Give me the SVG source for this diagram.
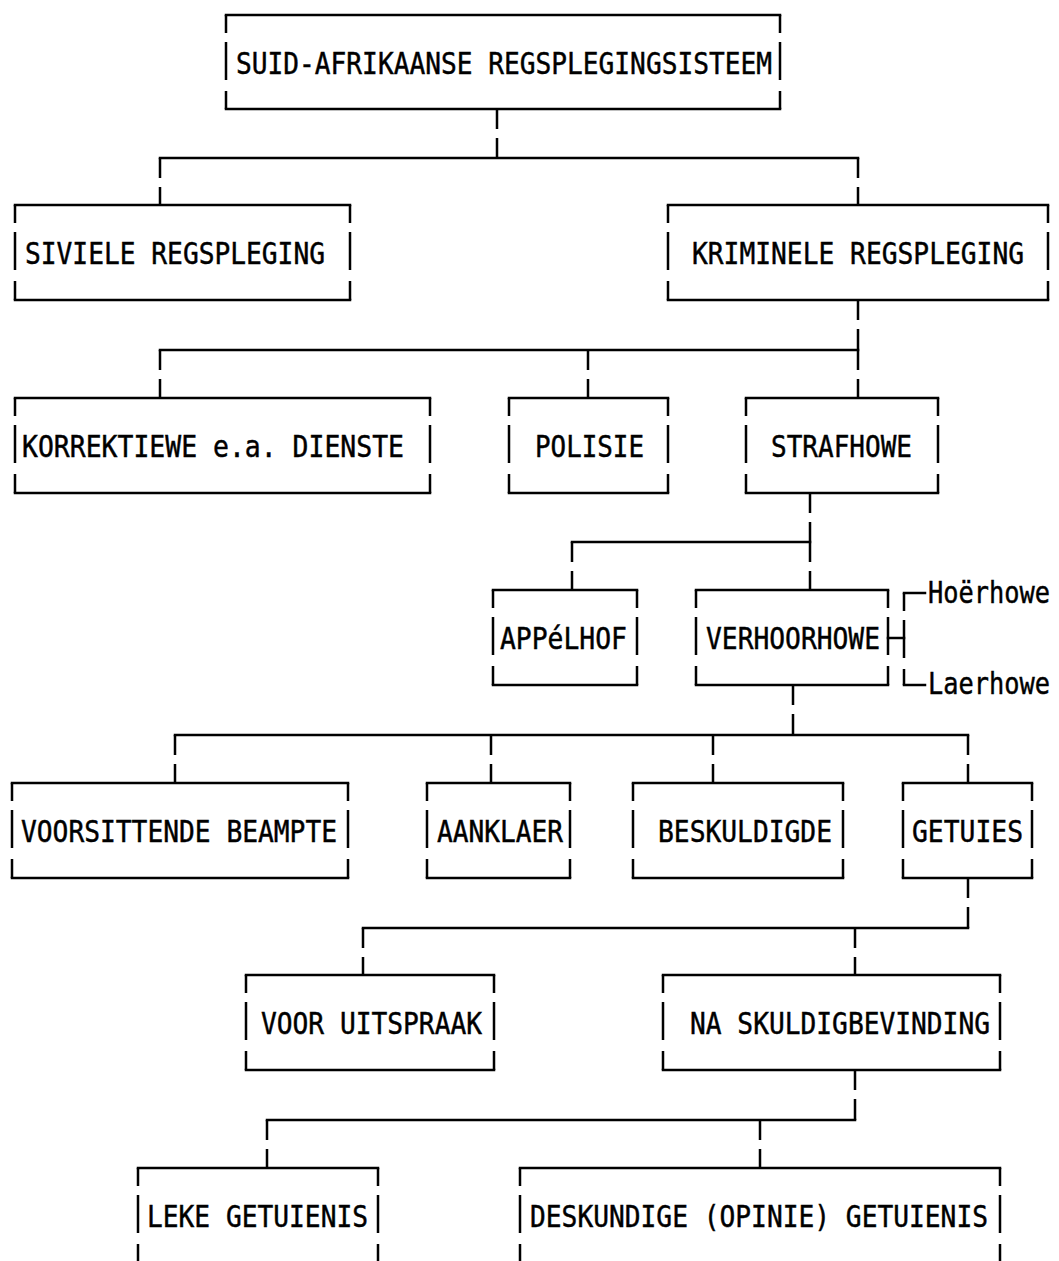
<svg xmlns="http://www.w3.org/2000/svg" width="1059" height="1261" viewBox="0 0 1059 1261">
<style>
.h{stroke:#000;stroke-width:2.5;fill:none;stroke-linecap:square}
.s{stroke:#000;stroke-width:2.5;fill:none;stroke-dasharray:18 9 38 11 40}
.c{stroke:#000;stroke-width:2.5;fill:none;stroke-dasharray:20 9 200}
.t{font-family:"DejaVu Sans Mono","Liberation Mono",monospace;font-size:26px;fill:#000;stroke:#000;stroke-width:0.4}
</style>
<rect width="1059" height="1261" fill="#fff"/>
<g id="connectors">
<line class="c" x1="497" y1="109" x2="497" y2="158"/>
<line class="h" x1="160" y1="158" x2="858" y2="158"/>
<line class="c" x1="160" y1="158" x2="160" y2="205"/>
<line class="c" x1="858" y1="158" x2="858" y2="205"/>
<line class="c" x1="858" y1="300" x2="858" y2="350"/>
<line class="h" x1="160" y1="350" x2="858" y2="350"/>
<line class="c" x1="160" y1="350" x2="160" y2="398"/>
<line class="c" x1="588" y1="350" x2="588" y2="398"/>
<line class="c" x1="858" y1="350" x2="858" y2="398"/>
<line class="c" x1="810" y1="493" x2="810" y2="542"/>
<line class="h" x1="572" y1="542" x2="810" y2="542"/>
<line class="c" x1="572" y1="542" x2="572" y2="590"/>
<line class="c" x1="810" y1="542" x2="810" y2="590"/>
<line class="c" x1="793" y1="685" x2="793" y2="735"/>
<line class="h" x1="175" y1="735" x2="968" y2="735"/>
<line class="c" x1="175" y1="735" x2="175" y2="783"/>
<line class="c" x1="491" y1="735" x2="491" y2="783"/>
<line class="c" x1="713" y1="735" x2="713" y2="783"/>
<line class="c" x1="968" y1="735" x2="968" y2="783"/>
<line class="c" x1="968" y1="878" x2="968" y2="928"/>
<line class="h" x1="363" y1="928" x2="968" y2="928"/>
<line class="c" x1="363" y1="928" x2="363" y2="975"/>
<line class="c" x1="855" y1="928" x2="855" y2="975"/>
<line class="c" x1="855" y1="1070" x2="855" y2="1120"/>
<line class="h" x1="267" y1="1120" x2="855" y2="1120"/>
<line class="c" x1="267" y1="1120" x2="267" y2="1168"/>
<line class="c" x1="760" y1="1120" x2="760" y2="1168"/>
<line class="h" x1="888" y1="638" x2="904" y2="638"/>
<line class="s" x1="904" y1="593" x2="904" y2="685"/>
<line class="h" x1="904" y1="593" x2="925" y2="593"/>
<line class="h" x1="904" y1="685" x2="925" y2="685"/>
</g>
<g id="n-root">
<line class="h" x1="226" y1="15" x2="780" y2="15"/><line class="h" x1="226" y1="109" x2="780" y2="109"/>
<line class="s" x1="226" y1="15" x2="226" y2="109"/><line class="s" x1="780" y1="15" x2="780" y2="109"/>
<text class="t" transform="translate(236,74) scale(1,1.154)" textLength="536" lengthAdjust="spacingAndGlyphs">SUID-AFRIKAANSE REGSPLEGINGSISTEEM</text>
</g>
<g id="n-siviele">
<line class="h" x1="15" y1="205" x2="350" y2="205"/><line class="h" x1="15" y1="300" x2="350" y2="300"/>
<line class="s" x1="15" y1="205" x2="15" y2="300"/><line class="s" x1="350" y1="205" x2="350" y2="300"/>
<text class="t" transform="translate(25,264) scale(1,1.154)" textLength="300" lengthAdjust="spacingAndGlyphs">SIVIELE REGSPLEGING</text>
</g>
<g id="n-kriminele">
<line class="h" x1="668" y1="205" x2="1048" y2="205"/><line class="h" x1="668" y1="300" x2="1048" y2="300"/>
<line class="s" x1="668" y1="205" x2="668" y2="300"/><line class="s" x1="1048" y1="205" x2="1048" y2="300"/>
<text class="t" transform="translate(692,264) scale(1,1.154)" textLength="332" lengthAdjust="spacingAndGlyphs">KRIMINELE REGSPLEGING</text>
</g>
<g id="n-korrektiewe">
<line class="h" x1="15" y1="398" x2="430" y2="398"/><line class="h" x1="15" y1="493" x2="430" y2="493"/>
<line class="s" x1="15" y1="398" x2="15" y2="493"/><line class="s" x1="430" y1="398" x2="430" y2="493"/>
<text class="t" transform="translate(22,457) scale(1,1.154)" textLength="382" lengthAdjust="spacingAndGlyphs">KORREKTIEWE e.a. DIENSTE</text>
</g>
<g id="n-polisie">
<line class="h" x1="509" y1="398" x2="668" y2="398"/><line class="h" x1="509" y1="493" x2="668" y2="493"/>
<line class="s" x1="509" y1="398" x2="509" y2="493"/><line class="s" x1="668" y1="398" x2="668" y2="493"/>
<text class="t" transform="translate(535,457) scale(1,1.154)" textLength="109" lengthAdjust="spacingAndGlyphs">POLISIE</text>
</g>
<g id="n-strafhowe">
<line class="h" x1="746" y1="398" x2="938" y2="398"/><line class="h" x1="746" y1="493" x2="938" y2="493"/>
<line class="s" x1="746" y1="398" x2="746" y2="493"/><line class="s" x1="938" y1="398" x2="938" y2="493"/>
<text class="t" transform="translate(771,457) scale(1,1.154)" textLength="141" lengthAdjust="spacingAndGlyphs">STRAFHOWE</text>
</g>
<g id="n-appelhof">
<line class="h" x1="493" y1="590" x2="637" y2="590"/><line class="h" x1="493" y1="685" x2="637" y2="685"/>
<line class="s" x1="493" y1="590" x2="493" y2="685"/><line class="s" x1="637" y1="590" x2="637" y2="685"/>
<text class="t" transform="translate(500,649) scale(1,1.154)" textLength="127" lengthAdjust="spacingAndGlyphs">APPéLHOF</text>
</g>
<g id="n-verhoorhowe">
<line class="h" x1="696" y1="590" x2="888" y2="590"/><line class="h" x1="696" y1="685" x2="888" y2="685"/>
<line class="s" x1="696" y1="590" x2="696" y2="685"/><line class="s" x1="888" y1="590" x2="888" y2="685"/>
<text class="t" transform="translate(706,649) scale(1,1.154)" textLength="174" lengthAdjust="spacingAndGlyphs">VERHOORHOWE</text>
</g>
<g id="n-hoerhowe">
<text class="t" transform="translate(928,603) scale(1,1.154)" textLength="122" lengthAdjust="spacingAndGlyphs">Hoërhowe</text>
</g>
<g id="n-laerhowe">
<text class="t" transform="translate(928,694) scale(1,1.154)" textLength="122" lengthAdjust="spacingAndGlyphs">Laerhowe</text>
</g>
<g id="n-voorsittende">
<line class="h" x1="12" y1="783" x2="348" y2="783"/><line class="h" x1="12" y1="878" x2="348" y2="878"/>
<line class="s" x1="12" y1="783" x2="12" y2="878"/><line class="s" x1="348" y1="783" x2="348" y2="878"/>
<text class="t" transform="translate(21,842) scale(1,1.154)" textLength="316" lengthAdjust="spacingAndGlyphs">VOORSITTENDE BEAMPTE</text>
</g>
<g id="n-aanklaer">
<line class="h" x1="427" y1="783" x2="570" y2="783"/><line class="h" x1="427" y1="878" x2="570" y2="878"/>
<line class="s" x1="427" y1="783" x2="427" y2="878"/><line class="s" x1="570" y1="783" x2="570" y2="878"/>
<text class="t" transform="translate(437,842) scale(1,1.154)" textLength="126" lengthAdjust="spacingAndGlyphs">AANKLAER</text>
</g>
<g id="n-beskuldigde">
<line class="h" x1="633" y1="783" x2="843" y2="783"/><line class="h" x1="633" y1="878" x2="843" y2="878"/>
<line class="s" x1="633" y1="783" x2="633" y2="878"/><line class="s" x1="843" y1="783" x2="843" y2="878"/>
<text class="t" transform="translate(658,842) scale(1,1.154)" textLength="174" lengthAdjust="spacingAndGlyphs">BESKULDIGDE</text>
</g>
<g id="n-getuies">
<line class="h" x1="903" y1="783" x2="1032" y2="783"/><line class="h" x1="903" y1="878" x2="1032" y2="878"/>
<line class="s" x1="903" y1="783" x2="903" y2="878"/><line class="s" x1="1032" y1="783" x2="1032" y2="878"/>
<text class="t" transform="translate(912,842) scale(1,1.154)" textLength="111" lengthAdjust="spacingAndGlyphs">GETUIES</text>
</g>
<g id="n-voor-uitspraak">
<line class="h" x1="246" y1="975" x2="494" y2="975"/><line class="h" x1="246" y1="1070" x2="494" y2="1070"/>
<line class="s" x1="246" y1="975" x2="246" y2="1070"/><line class="s" x1="494" y1="975" x2="494" y2="1070"/>
<text class="t" transform="translate(261,1034) scale(1,1.154)" textLength="221" lengthAdjust="spacingAndGlyphs">VOOR UITSPRAAK</text>
</g>
<g id="n-na-skuldigbevinding">
<line class="h" x1="663" y1="975" x2="1000" y2="975"/><line class="h" x1="663" y1="1070" x2="1000" y2="1070"/>
<line class="s" x1="663" y1="975" x2="663" y2="1070"/><line class="s" x1="1000" y1="975" x2="1000" y2="1070"/>
<text class="t" transform="translate(690,1034) scale(1,1.154)" textLength="300" lengthAdjust="spacingAndGlyphs">NA SKULDIGBEVINDING</text>
</g>
<g id="n-leke">
<line class="h" x1="138" y1="1168" x2="378" y2="1168"/>
<line class="s" x1="138" y1="1168" x2="138" y2="1275"/><line class="s" x1="378" y1="1168" x2="378" y2="1275"/>
<text class="t" transform="translate(147,1227) scale(1,1.154)" textLength="221" lengthAdjust="spacingAndGlyphs">LEKE GETUIENIS</text>
</g>
<g id="n-deskundige">
<line class="h" x1="520" y1="1168" x2="1000" y2="1168"/>
<line class="s" x1="520" y1="1168" x2="520" y2="1275"/><line class="s" x1="1000" y1="1168" x2="1000" y2="1275"/>
<text class="t" transform="translate(530,1227) scale(1,1.154)" textLength="458" lengthAdjust="spacingAndGlyphs">DESKUNDIGE (OPINIE) GETUIENIS</text>
</g>
</svg>
